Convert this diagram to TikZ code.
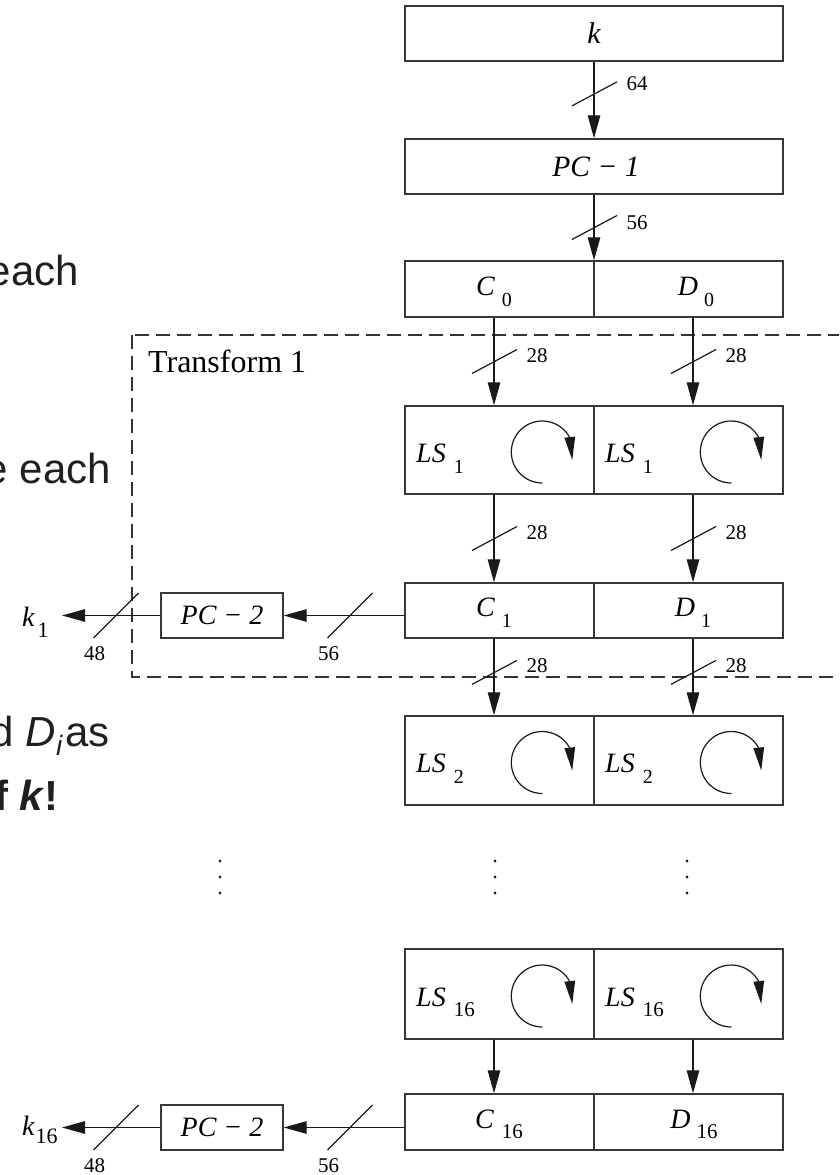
\documentclass[tikz,border=0pt]{standalone}
\usepackage{fontspec}
\setmainfont{Liberation Serif}
\newfontfamily\slidefont{Liberation Sans}
\usetikzlibrary{arrows.meta,bending,calc}
% #1 gap, #2 lowering, #3 size, #4 text
\newcommand{\sbx}[4]{\hspace{#1}\raisebox{-#2}{\fontsize{#3}{#3}\selectfont\upshape #4}}
\begin{document}
\begin{tikzpicture}[x=1pt,y=-1pt,
  box/.style={draw=black!78, line width=1.4pt, inner sep=0pt, text depth=0pt,
     font=\fontsize{28}{28}\selectfont\itshape},
  half/.style={box, minimum width=189pt, minimum height=#1},
  lbl/.style={inner sep=0pt, font=\fontsize{28}{28}\selectfont\itshape},
  conn/.style={draw=black!90, line width=1.2pt, -{Triangle[length=23pt,width=12.5pt]}},
  rotarrow/.style={draw=black!90, line width=1.2pt, -{Triangle[length=23pt,width=10.5pt]}},
  slashln/.style={draw=black!90, line width=1.2pt},
  bitlbl/.style={inner sep=0pt, font=\fontsize{21}{21}\selectfont},
  tframe/.style={draw=black!80, line width=1.1pt, dash pattern=on 14pt off 7pt},
  slidetxt/.style={inner sep=0pt, font=\fontsize{42}{42}\selectfont\slidefont, text=black!88},
  dotm/.style={fill=black!85},
]
\useasboundingbox (0,0) rectangle (839,1175);
\clip (0,0) rectangle (839,1175);

% slide text fragments
\node[slidetxt, anchor=base east] (t1) at (79,285) {each};
\node[slidetxt, anchor=base east] (t2) at (111,483) {e each};
\node[slidetxt, anchor=base east] (t3) at (110,746) {d \textit{D}\raisebox{-9pt}{\fontsize{28}{28}\selectfont\itshape i}\hspace{3pt}as};
\node[slidetxt, anchor=base east] (t4) at (59,810) {\bfseries f \textit{k}!};

% dashed frame
\draw[tframe] (132,335) rectangle (880,677);
\node[anchor=base west, inner sep=0pt, font=\fontsize{32}{32}\selectfont] (tlabel) at (148,372) {Transform 1};

% columns
\coordinate (colC) at (494,0);
\coordinate (colD) at (693,0);

% boxes
\node[box, minimum width=378pt, minimum height=55pt, font=\fontsize{30}{30}\selectfont\itshape] (kbox) at (594,33.5) {k};
\node[box, minimum width=378pt, minimum height=55pt, font=\fontsize{29.5}{29.5}\selectfont\itshape] (pc1) at (594,166.5) {\hspace{4pt}PC − 1};
\node[half=56pt] (c0) at (499.5,289) {};
\node[half=56pt] (d0) at (688.5,289) {};
\node[half=88pt] (ls1c) at (499.5,450) {};
\node[half=88pt] (ls1d) at (688.5,450) {};
\node[half=55pt] (c1) at (499.5,610.5) {};
\node[half=55pt] (d1) at (688.5,610.5) {};
\node[half=89pt] (ls2c) at (499.5,760.5) {};
\node[half=89pt] (ls2d) at (688.5,760.5) {};
\node[half=90pt] (ls16c) at (499.5,994) {};
\node[half=90pt] (ls16d) at (688.5,994) {};
\node[half=56pt] (c16) at (499.5,1122) {};
\node[half=56pt] (d16) at (688.5,1122) {};
\node[box, minimum width=122pt, minimum height=45pt] (pcA) at (222,615.5) {PC − 2};
\node[box, minimum width=122pt, minimum height=45pt] (pcB) at (222,1127.5) {PC − 2};

% labels in halves
\node[lbl, anchor=base] (lc0) at (494,295) {C\sbx{7pt}{11pt}{20}{0}};
\node[lbl, anchor=base] (ld0) at (696,295) {D\sbx{6pt}{11pt}{20}{0}};
\node[lbl, anchor=base] (lc1) at (494,616.5) {C\sbx{7pt}{11pt}{20}{1}};
\node[lbl, anchor=base] (ld1) at (693,616.5) {D\sbx{6pt}{11pt}{20}{1}};
\node[lbl, anchor=base] (lc16) at (499,1128) {C\sbx{8pt}{10pt}{21}{16}};
\node[lbl, anchor=base] (ld16) at (694,1128) {D\sbx{6pt}{10pt}{21}{16}};
\node[lbl, anchor=base west] (lls1c) at (416,462) {LS\sbx{8pt}{11pt}{20}{1}};
\node[lbl, anchor=base west] (lls1d) at (605,462) {LS\sbx{8pt}{11pt}{20}{1}};
\node[lbl, anchor=base west] (lls2c) at (416,772.5) {LS\sbx{8pt}{11pt}{20}{2}};
\node[lbl, anchor=base west] (lls2d) at (605,772.5) {LS\sbx{8pt}{11pt}{20}{2}};
\node[lbl, anchor=base west] (lls16c) at (416,1006) {LS\sbx{8pt}{10pt}{21}{16}};
\node[lbl, anchor=base west] (lls16d) at (605,1006) {LS\sbx{8pt}{10pt}{21}{16}};

% rotation arrows
\foreach \n in {ls1c,ls1d,ls2c,ls2d,ls16c,ls16d}{
  \draw[rotarrow] ($(\n.west)+(138,33)$) arc[start angle=90,end angle=375,radius=31];
}

% vertical connectors
\draw[conn] (kbox.south) -- (pc1.north) coordinate[pos=0.42] (s1);
\draw[conn] (pc1.south) -- (pc1.south |- c0.north) coordinate[pos=0.5] (s2);
\draw[conn] (c0.south -| colC) -- (ls1c.north -| colC) coordinate[pos=0.5] (s3c);
\draw[conn] (d0.south -| colD) -- (ls1d.north -| colD) coordinate[pos=0.5] (s3d);
\draw[conn] (ls1c.south -| colC) -- (c1.north -| colC) coordinate[pos=0.5] (s4c);
\draw[conn] (ls1d.south -| colD) -- (d1.north -| colD) coordinate[pos=0.5] (s4d);
\draw[conn] (c1.south -| colC) -- (ls2c.north -| colC) coordinate[pos=0.44] (s5c);
\draw[conn] (d1.south -| colD) -- (ls2d.north -| colD) coordinate[pos=0.44] (s5d);
\draw[conn] (ls16c.south -| colC) -- (c16.north -| colC);
\draw[conn] (ls16d.south -| colD) -- (d16.north -| colD);

\foreach \s/\t/\dy in {s1/64/-10, s2/56/-5, s3c/28/-6, s3d/28/-6, s4c/28/-6, s4d/28/-6, s5c/28/-7, s5d/28/-7}{
  \draw[slashln] ($(\s)+(-22,12)$) -- ($(\s)+(23,-12)$);
  \node[bitlbl] (b\s) at ($(\s)+(43,\dy)$) {\t};
}

% outputs
\coordinate (k1tip) at (62,615.5);
\coordinate (k16tip) at (62,1127.5);
\node[lbl, anchor=base west] (k1) at (22,626) {k\sbx{3pt}{11pt}{22}{1}};
\node[lbl, anchor=base west] (k16) at (22,1135) {k\sbx{1pt}{8pt}{22}{16}};

\draw[conn] (c1.west |- pcA.east) -- (pcA.east) coordinate[pos=0.45] (h1);
\draw[conn] (pcA.west) -- (k1tip) coordinate[pos=0.45] (h2);
\draw[conn] (c16.west |- pcB.east) -- (pcB.east) coordinate[pos=0.45] (h3);
\draw[conn] (pcB.west) -- (k16tip) coordinate[pos=0.45] (h4);

\foreach \s/\t in {h1/56, h2/48, h3/56, h4/48}{
  \draw[slashln] ($(\s)+(-22.5,22.5)$) -- ($(\s)+(22.5,-22.5)$);
  \node[bitlbl] (b\s) at ($(\s)+(-21.5,38.5)$) {\t};
}

% continuation dots
\foreach \x in {220, 495, 687}{
  \foreach \y in {861, 877, 893}{
    \fill[dotm] (\x,\y) circle[radius=1.6];
  }
}
\end{tikzpicture}
\end{document}
